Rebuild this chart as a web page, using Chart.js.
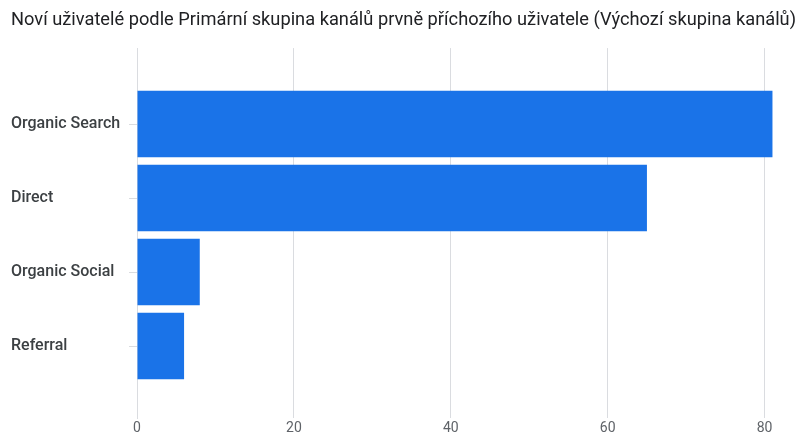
<!DOCTYPE html>
<html>
<head>
<meta charset="utf-8">
<script src="https://cdn.jsdelivr.net/npm/chart.js@4"></script>
<style>
  html, body { margin: 0; padding: 0; background: #fff; }
  #wrap { width: 805px; height: 434px; }
</style>
</head>
<body>
<div id="wrap"><canvas id="chart"></canvas></div>
<script>
const title = 'Noví uživatelé podle Primární skupina kanálů prvně příchozího uživatele (Výchozí skupina kanálů)';
const channels = ['Organic Search', 'Direct', 'Organic Social', 'Referral'];
const newUsers = [81, 65, 8, 6];
const xTicks = [0, 20, 40, 60, 80];

const gridColor = '#dadce0';

new Chart(document.getElementById('chart'), {
  type: 'bar',
  data: {
    datasets: [
      {
        data: newUsers.map((v, i) => ({ x: v, y: i })),
        backgroundColor: '#1a73e8',
        borderWidth: 0,
        barPercentage: 0.9,
        categoryPercentage: 1,
      },
    ],
  },
  options: {
    indexAxis: 'y',
    responsive: true,
    maintainAspectRatio: false,
    animation: false,
    layout: { padding: { left: 11, right: 9, top: 0, bottom: 0 } },
    plugins: {
      legend: { display: false },
      tooltip: { enabled: false },
      title: {
        display: true,
        text: title,
        align: 'start',
        color: '#202124',
        font: { family: 'Roboto', size: 18.4, weight: 'normal' },
        padding: { top: 9.5, bottom: 16.5 },
      },
    },
    scales: {
      x: {
        type: 'linear',
        min: 0,
        max: 84,
        afterBuildTicks: (scale) => {
          scale.ticks = xTicks.map((v) => ({ value: v }));
        },
        afterFit: (scale) => {
          scale.height = 16;
        },
        ticks: {
          color: '#5f6368',
          font: { family: 'Roboto', size: 14 },
          padding: 2,
        },
        grid: { color: gridColor, drawTicks: false },
        border: { display: false },
      },
      y: {
        type: 'linear',
        reverse: true,
        offset: false,
        // one channel per unit, with room above and below the bars
        min: -1.027,
        max: 3.973,
        afterBuildTicks: (scale) => {
          scale.ticks = channels.map((_, i) => ({ value: i }));
        },
        afterFit: (scale) => {
          scale.width = 126;
        },
        ticks: {
          callback: (v) => channels[v],
          crossAlign: 'far',
          color: '#3c4043',
          font: { family: 'Roboto', size: 16, weight: '500' },
        },
        grid: { offset: false, drawOnChartArea: false, tickLength: 8, color: gridColor },
        border: { color: gridColor },
      },
    },
  },
});
</script>
</body>
</html>
